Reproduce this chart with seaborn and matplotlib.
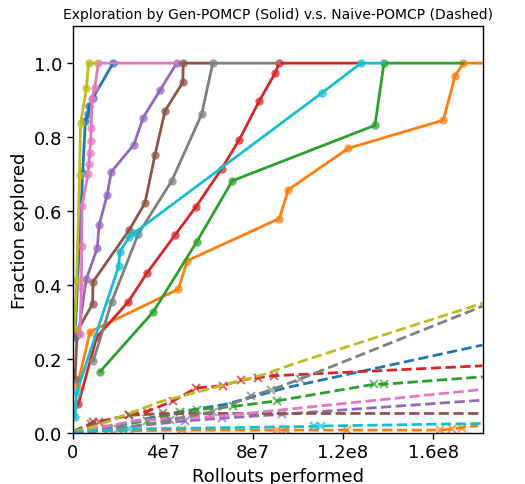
import pandas as pd
import matplotlib
matplotlib.use("Agg")
import matplotlib.pyplot as plt
import seaborn as sns

# tab10 colour per run, same order for both planners
colors = sns.color_palette("tab10", 10)

# Gen-POMCP (solid) -- rollouts and fraction explored per run
gen_x = [
    [0.9e6, 4.3e6, 5.5e6, 6.7e6, 7.2e6, 9.0e6, 1.78e7, 2.0e7],
    [1.9e6, 7.6e6, 4.68e7, 5.08e7, 9.17e7, 9.57e7, 1.224e8, 1.646e8, 1.698e8, 1.735e8, 1.85e8],
    [1.2e7, 3.57e7, 5.5e7, 7.08e7, 1.342e8, 1.382e8, 1.735e8],
    [2.4e6, 1.05e7, 2.46e7, 3.28e7, 4.53e7, 5.47e7, 6.61e7, 7.39e7, 8.28e7, 8.98e7, 9.17e7, 1.28e8],
    [2.4e6, 5.9e6, 1.08e7, 1.16e7, 1.52e7, 1.70e7, 2.71e7, 3.12e7, 3.87e7, 4.61e7, 4.7e7],
    [0.9e6, 1.9e6, 8.7e6, 8.9e6, 2.5e7, 3.2e7, 3.64e7, 4.09e7, 4.88e7, 4.9e7, 6.22e7],
    [3.1e6, 3.7e6, 3.9e6, 4.0e6, 6.7e6, 7.1e6, 7.4e6, 7.9e6, 8.1e6, 8.4e6, 9.6e6, 1.13e7, 4.62e7],
    [9.0e6, 1.72e7, 2.9e7, 4.39e7, 5.72e7, 6.21e7, 9.17e7],
    [0.7e6, 1.6e6, 2.9e6, 3.4e6, 6.0e6, 6.9e6, 1.11e7],
    [0.9e6, 1.6e6, 2.03e7, 2.08e7, 2.48e7, 2.74e7, 1.105e8, 1.28e8, 1.382e8],
]
gen_y = [
    [0.26, 0.703, 0.844, 0.862, 0.885, 0.907, 1.0, 1.0],
    [0.127, 0.274, 0.389, 0.466, 0.58, 0.658, 0.77, 0.846, 0.966, 1.0, 1.0],
    [0.166, 0.328, 0.517, 0.682, 0.832, 1.0, 1.0],
    [0.078, 0.259, 0.355, 0.432, 0.535, 0.612, 0.715, 0.793, 0.898, 0.973, 1.0, 1.0],
    [0.268, 0.416, 0.50, 0.562, 0.644, 0.706, 0.78, 0.853, 0.927, 1.0, 1.0],
    [0.146, 0.276, 0.349, 0.409, 0.549, 0.622, 0.751, 0.871, 0.948, 1.0, 1.0],
    [0.268, 0.396, 0.506, 0.615, 0.70, 0.727, 0.758, 0.79, 0.824, 0.903, 0.932, 1.0, 1.0],
    [0.195, 0.355, 0.538, 0.682, 0.862, 1.0, 1.0],
    [0.28, 0.414, 0.698, 0.838, 0.932, 1.0, 1.0],
    [0.043, 0.11, 0.451, 0.49, 0.529, 0.542, 0.919, 1.0, 1.0],
]

# Naive-POMCP (dashed)
naive_x = [
    [0, 1.0e7, 4.6e7, 6.8e7, 9.5e7, 1.82e8],
    [0, 4.83e7, 9.05e7, 9.47e7, 1.216e8, 1.63e8, 1.683e8, 1.728e8, 1.8e8],
    [0, 3.3e7, 4.75e7, 5.5e7, 7.1e7, 9.06e7, 1.338e8, 1.382e8, 1.82e8],
    [0, 8.9e6, 1.17e7, 2.5e7, 3.28e7, 4.46e7, 5.47e7, 6.65e7, 7.45e7, 8.24e7, 8.93e7, 1.82e8],
    [0, 1.6e7, 5.0e7, 6.6e7, 9.3e7, 1.82e8],
    [0, 8.0e6, 2.5e7, 4.0e7, 1.82e8],
    [0, 2.8e7, 4.2e7, 6.4e7, 1.82e8],
    [0, 2.0e7, 4.3e7, 6.2e7, 7.9e7, 8.8e7, 1.01e8, 1.82e8],
    [0, 7.5e6, 3.9e7, 6.1e7, 8.4e7, 1.01e8, 1.82e8],
    [0, 2.5e7, 1.07e8, 1.1e8, 1.82e8],
]
naive_y = [
    [0.0, 0.01, 0.056, 0.078, 0.123, 0.238],
    [0.005, 0.008, 0.008, 0.008, 0.008, 0.008, 0.011, 0.015, 0.02],
    [0.003, 0.033, 0.056, 0.063, 0.072, 0.087, 0.132, 0.132, 0.152],
    [0.003, 0.029, 0.031, 0.049, 0.058, 0.087, 0.122, 0.128, 0.143, 0.15, 0.155, 0.182],
    [0.0, 0.012, 0.033, 0.04, 0.051, 0.089],
    [0.005, 0.024, 0.048, 0.053, 0.053],
    [0.003, 0.033, 0.04, 0.045, 0.118],
    [0.0, 0.01, 0.035, 0.058, 0.099, 0.117, 0.146, 0.343],
    [0.005, 0.013, 0.085, 0.12, 0.157, 0.193, 0.351],
    [0.003, 0.011, 0.018, 0.019, 0.026],
]
# which dashed runs show their x markers
naive_marked = [False, True, True, True, True, True, False, True, False, True]

xticks = [0, 4e7, 8e7, 1.2e8, 1.6e8]
xtick_labels = ["0", "4e7", "8e7", "1.2e8", "1.6e8"]
yticks = [0.0, 0.2, 0.4, 0.6, 0.8, 1.0]

sns.set_style("ticks", {"axes.edgecolor": "black", "xtick.color": "black",
                        "ytick.color": "black", "text.color": "black",
                        "axes.labelcolor": "black"})
plt.rcParams["font.family"] = ["DejaVu Sans"]

fig = plt.figure(figsize=(5.25, 4.85), dpi=100)
ax = fig.add_axes([0.139, 0.105, 0.781, 0.839])

for i in range(10):
    c = colors[i]
    df = pd.DataFrame({"x": gen_x[i], "y": gen_y[i]})
    sns.lineplot(data=df, x="x", y="y", ax=ax, sort=False, estimator=None,
                 color=c, linewidth=2, marker="o", markersize=6,
                 markerfacecolor=(*c, 0.75), markeredgewidth=0,
                 markevery=list(range(len(df) - 1)))
    dn = pd.DataFrame({"x": naive_x[i], "y": naive_y[i]})
    marks = list(range(1, len(dn) - 1)) if naive_marked[i] else []
    sns.lineplot(data=dn, x="x", y="y", ax=ax, sort=False, estimator=None,
                 color=c, linewidth=2, linestyle="--", marker="x",
                 markersize=6, markeredgewidth=1.5, markeredgecolor=(*c, 0.7),
                 markevery=marks)

ax.set_xlim(0, 1.822e8)
ax.set_ylim(0, 1.1)
ax.set_xticks(xticks)
ax.set_xticklabels(xtick_labels)
ax.set_yticks(yticks)
ax.tick_params(labelsize=13, length=4, width=1)
for s in ax.spines.values():
    s.set_linewidth(1)
ax.set_title("Exploration by Gen-POMCP (Solid) v.s. Naive-POMCP (Dashed)", fontsize=10)
ax.set_xlabel("Rollouts performed", fontsize=13)
ax.set_ylabel("Fraction explored", fontsize=13)

fig.savefig("out.png", dpi=100)
